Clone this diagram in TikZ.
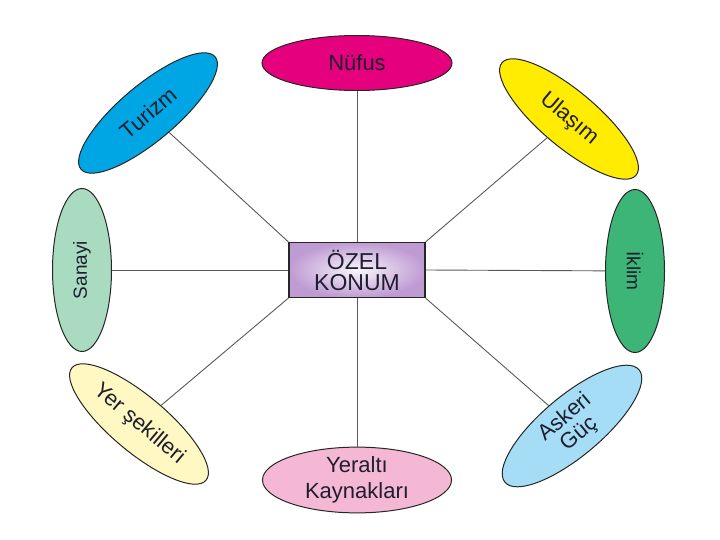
\documentclass[tikz,border=0pt]{standalone}
\usepackage{fontspec}
\setmainfont{Liberation Sans}
\usetikzlibrary{shapes.geometric}
\definecolor{nufuscolor}{HTML}{E5007D}
\definecolor{turizmcolor}{HTML}{00A5E3}
\definecolor{ulasimcolor}{HTML}{FFEC00}
\definecolor{sanayicolor}{HTML}{A9DBC0}
\definecolor{iklimcolor}{HTML}{3DB577}
\definecolor{askericolor}{HTML}{A6DDF6}
\definecolor{yeralticolor}{HTML}{F5B8D4}
\definecolor{yersekilcolor}{HTML}{FFF8C2}
\definecolor{kutucolor}{HTML}{BF9BD3}
\definecolor{yazicolor}{HTML}{1E1E2E}

\tikzset{
  konu/.style={draw=black!85, line width=1pt, ellipse, inner sep=0pt,
    minimum width=175pt, minimum height=56pt, align=center, text=yazicolor,
    font=\fontsize{22pt}{24pt}\selectfont},
  dikkonu/.style={konu, minimum width=163pt, minimum height=59pt,
    font=\fontsize{19pt}{21pt}\selectfont},
  bag/.style={draw=black!65, line width=0.9pt},
}

\begin{document}
\begin{tikzpicture}[x=1pt, y=-1pt]%
\useasboundingbox (0,0) rectangle (720,540);%
% orta kutu
\node[draw=black!85, line width=1.3pt, rectangle, shade, inner color=white!90!kutucolor, outer color=kutucolor, minimum width=136pt, minimum height=55pt, inner sep=0pt, align=center, text=yazicolor, font=\fontsize{23pt}{21pt}\selectfont] (kutu) at (357, 270) {ÖZEL\\KONUM};%
% cevredeki elipsler
\node[konu, fill=nufuscolor, minimum width=190pt, minimum height=55pt] (nufus) at (357, 63) {Nüfus};%
\node[konu, fill=turizmcolor, rotate=40] (turizm) at (148, 113) {Turizm};%
\node[konu, fill=ulasimcolor, rotate=-40] (ulasim) at (569, 119) {Ulaşım};%
\node[dikkonu, fill=sanayicolor, rotate=90] (sanayi) at (82, 270) {Sanayi};%
\node[dikkonu, fill=iklimcolor, rotate=-90] (iklim) at (635, 271) {İklim};%
\node[konu, fill=yersekilcolor, rotate=-40] (yersekil) at (139, 424) {Yer şekilleri};%
\node[konu, fill=askericolor, rotate=40, font=\fontsize{22pt}{22pt}\selectfont] (askeri) at (572, 426) {Askeri\\Güç};%
\node[konu, fill=yeralticolor, minimum width=189pt, minimum height=54pt, font=\fontsize{22pt}{26pt}\selectfont] (yeralti) at (357, 480) {Yeraltı\\Kaynakları};%
% baglantilar
\draw[bag] (kutu.north) -- (nufus);%
\draw[bag] (kutu.south) -- (yeralti);%
\draw[bag] (kutu.west) -- (sanayi);%
\draw[bag] (kutu.east) -- (iklim);%
\draw[bag] (kutu.north west) -- (turizm);%
\draw[bag] (kutu.north east) -- (ulasim);%
\draw[bag] (kutu.south west) -- (yersekil);%
\draw[bag] (kutu.south east) -- (askeri);%
\end{tikzpicture}
\end{document}
